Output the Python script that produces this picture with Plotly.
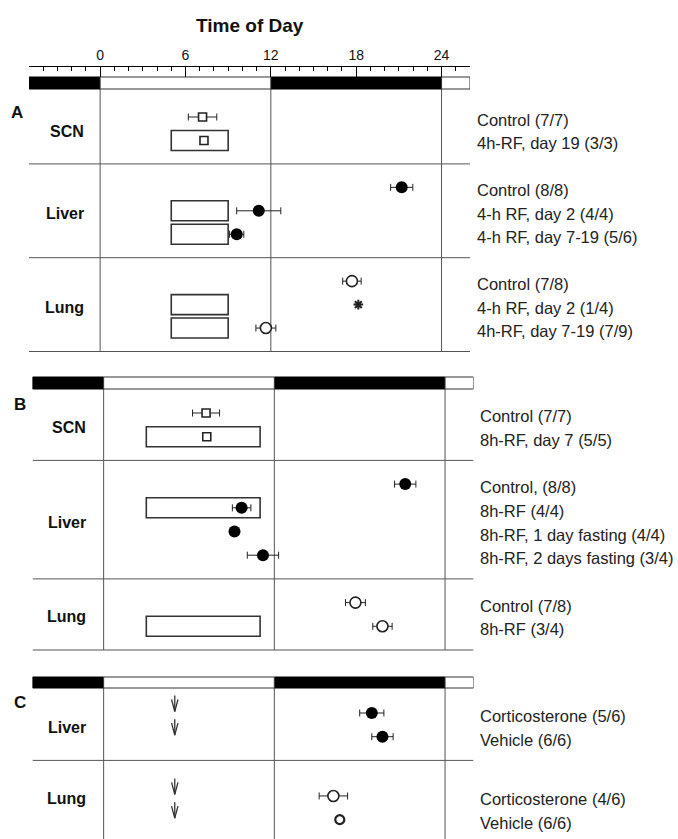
import plotly.graph_objects as go

W, H = 678, 839
FONT = "Liberation Sans, Arial, Helvetica, sans-serif"

# ---------------- data ----------------
HOURS_RANGE = [-5, 26]
TICK_VALUES = [0, 6, 12, 18, 24]
TICK_LABELS = ["0", "6", "12", "18", "24"]
DARK_PERIODS = [(-5, 0), (12, 24)]
LIGHT_PERIODS = [(0, 12), (24, 26)]
DAY_LINES = [0, 12, 24]

A_tissue = ["SCN", "SCN", "Liver", "Liver", "Liver", "Lung", "Lung", "Lung"]
A_condition = ["Control (7/7)", "4h-RF, day 19 (3/3)",
               "Control (8/8)", "4-h RF, day 2 (4/4)", "4-h RF, day 7-19 (5/6)",
               "Control (7/8)", "4-h RF, day 2 (1/4)", "4h-RF, day 7-19 (7/9)"]
A_peak = [7.2, 7.3, 21.2, 11.15, 9.6, 17.7, 18.15, 11.65]
A_sem = [1.0, 0, 0.78, 1.55, 0.5, 0.65, 0, 0.7]
A_restricted = [False, True, False, True, True, False, True, True]
A_arrhythmic = [False, False, False, False, False, False, True, False]
A_feeding = (5, 9)

B_tissue = ["SCN", "SCN", "Liver", "Liver", "Liver", "Liver", "Lung", "Lung"]
B_condition = ["Control (7/7)", "8h-RF, day 7 (5/5)",
               "Control, (8/8)", "8h-RF (4/4)", "8h-RF, 1 day fasting (4/4)",
               "8h-RF, 2 days fasting (3/4)",
               "Control (7/8)", "8h-RF (3/4)"]
B_peak = [7.2, 7.25, 21.2, 9.7, 9.2, 11.2, 17.7, 19.6]
B_sem = [0.95, 0, 0.75, 0.65, 0, 1.1, 0.7, 0.68]
B_restricted = [False, True, False, True, False, False, False, True]
B_arrhythmic = [False] * 8
B_feeding = (3, 11)

C_tissue = ["Liver", "Liver", "Lung", "Lung"]
C_condition = ["Corticosterone (5/6)", "Vehicle (6/6)",
               "Corticosterone (4/6)", "Vehicle (6/6)"]
C_peak = [18.85, 19.6, 16.15, 16.6]
C_sem = [0.85, 0.75, 1.0, 0]
C_injection = [5, 5, 5, 5]

# ---------------- layout constants (pixels) ----------------
PANELS = [
    dict(letter="A", tissue=A_tissue, cond=A_condition, peak=A_peak, sem=A_sem,
         restricted=A_restricted, arrhythmic=A_arrhythmic, feeding=A_feeding,
         injection=None, xaxis="x", bar=(77, 89), row0=117, unit=23.45,
         bottom_line=True, bottom=None, extra={}, label_x=475, tissue_x=86,
         letter_xy=(17, 112)),
    dict(letter="B", tissue=B_tissue, cond=B_condition, peak=B_peak, sem=B_sem,
         restricted=B_restricted, arrhythmic=B_arrhythmic, feeding=B_feeding,
         injection=None, xaxis="x2", bar=(377, 389), row0=413, unit=23.7,
         bottom_line=True, bottom=None, extra={}, label_x=478, tissue_x=88,
         letter_xy=(20, 404)),
    dict(letter="C", tissue=C_tissue, cond=C_condition, peak=C_peak, sem=C_sem,
         restricted=[False] * 4, arrhythmic=[False] * 4, feeding=None,
         injection=C_injection, xaxis="x2", bar=(677, 688), row0=713, unit=23.7,
         bottom_line=False, bottom=H, extra={"Lung": 0.5}, label_x=478,
         tissue_x=88, letter_xy=(20, 702)),
]

MARKERS = {
    "SCN": dict(symbol="square", size=8, color="white",
                line=dict(color="#222", width=1.6)),
    "Liver": dict(symbol="circle", size=12, color="black",
                  line=dict(color="black", width=0)),
    "Lung": dict(symbol="circle", size=11, color="white",
                 line=dict(color="#222", width=1.6)),
}
ASTERISK = dict(symbol="asterisk-open", size=8, color="#222",
                line=dict(color="#222", width=2))

LINE_COLOR = "#555"
PX_PER_HOUR = (470 - 29) / (HOURS_RANGE[1] - HOURS_RANGE[0])

fig = go.Figure()
shapes = []
annotations = []


def slot_layout(tissues, extra):
    slots, seps = [], []
    s = 0
    for i, t in enumerate(tissues):
        if i > 0 and t != tissues[i - 1]:
            s += 1
            seps.append(s)
            s += extra.get(t, 0)
        s += 1
        slots.append(s)
    seps.append(s + 1)
    return slots, seps


for p in PANELS:
    xa = p["xaxis"]
    xref = xa
    ytop, ybot = p["bar"]
    ypx = lambda s, p=p: p["row0"] + (s - 1) * p["unit"]
    slots, seps = slot_layout(p["tissue"], p["extra"])
    rows_y = [ypx(s) for s in slots]

    # light/dark bar
    for (a, b) in DARK_PERIODS:
        shapes.append(dict(type="rect", xref=xref, yref="y", x0=a, x1=b,
                           y0=ytop, y1=ybot, fillcolor="black",
                           line=dict(color="black", width=1)))
    for (a, b) in LIGHT_PERIODS:
        shapes.append(dict(type="rect", xref=xref, yref="y", x0=a, x1=b,
                           y0=ytop, y1=ybot, fillcolor="white",
                           line=dict(color="#333", width=1)))

    if p["bottom_line"]:
        panel_bottom = ypx(seps[-1])
        sep_list = seps
    else:
        panel_bottom = p["bottom"]
        sep_list = seps[:-1]

    for d in DAY_LINES:
        shapes.append(dict(type="line", xref=xref, yref="y", x0=d, x1=d,
                           y0=ybot, y1=panel_bottom, layer="below",
                           line=dict(color=LINE_COLOR, width=1)))
    for s in sep_list:
        shapes.append(dict(type="line", xref=xref, yref="y",
                           x0=HOURS_RANGE[0], x1=HOURS_RANGE[1],
                           y0=ypx(s), y1=ypx(s), layer="below",
                           line=dict(color=LINE_COLOR, width=1)))

    # feeding windows
    if p["feeding"] is not None:
        for y, r in zip(rows_y, p["restricted"]):
            if r:
                shapes.append(dict(type="rect", xref=xref, yref="y",
                                   x0=p["feeding"][0], x1=p["feeding"][1],
                                   y0=y - 10, y1=y + 10, layer="below",
                                   fillcolor="white",
                                   line=dict(color="#333", width=1.6)))

    # injection arrows
    if p["injection"] is not None:
        dx = 3.2 / PX_PER_HOUR
        ax, ay = [], []
        for y, t0 in zip(rows_y, p["injection"]):
            tip = y - 1.5
            ax += [t0, t0, None, t0 - dx, t0, t0 + dx, None]
            ay += [tip - 16, tip, None, tip - 12, tip, tip - 12, None]
        fig.add_trace(go.Scatter(x=ax, y=ay, mode="lines", xaxis=xa, yaxis="y",
                                 line=dict(color="#333", width=1.3),
                                 hoverinfo="skip", showlegend=False))

    # phase markers
    for i, (y, t, pk, se) in enumerate(zip(rows_y, p["tissue"], p["peak"], p["sem"])):
        if p["arrhythmic"][i]:
            marker = ASTERISK
        else:
            marker = dict(MARKERS[t])
            if p["letter"] == "C" and t == "Lung" and se == 0:
                marker = dict(marker, size=9, line=dict(color="#222", width=2.2))
        err = None
        if se > 0:
            err = dict(type="data", array=[se], color="#222", thickness=1,
                       width=3.5)
        fig.add_trace(go.Scatter(x=[pk], y=[y], mode="markers", xaxis=xa,
                                 yaxis="y", marker=marker, error_x=err,
                                 hoverinfo="skip", showlegend=False))

    # condition labels
    for y, c in zip(rows_y, p["cond"]):
        annotations.append(dict(text=c, xref="paper", yref="y",
                                x=p["label_x"] / W, y=y + 3, xanchor="left",
                                yanchor="middle", showarrow=False,
                                font=dict(family=FONT, size=16.5, color="#222")))

    # tissue labels
    groups = []
    for t in p["tissue"]:
        if t not in groups:
            groups.append(t)
    for g in groups:
        gs = [s for s, t in zip(slots, p["tissue"]) if t == g]
        ms = sum(gs) / len(gs) - p["extra"].get(g, 0)
        annotations.append(dict(text="<b>%s</b>" % g, xref="paper", yref="y",
                                x=p["tissue_x"] / W, y=ypx(ms) + 2.5,
                                xanchor="right", yanchor="middle",
                                showarrow=False,
                                font=dict(family=FONT, size=16, color="#111")))

    lx, ly = p["letter_xy"]
    annotations.append(dict(text="<b>%s</b>" % p["letter"], xref="paper",
                            yref="y", x=lx / W, y=ly, xanchor="center",
                            yanchor="middle", showarrow=False,
                            font=dict(family=FONT, size=17, color="#111")))

annotations.append(dict(text="<b>Time of Day</b>", xref="paper", yref="y",
                        x=250 / W, y=25, xanchor="center", yanchor="middle",
                        showarrow=False,
                        font=dict(family=FONT, size=19, color="#111")))

fig.update_layout(
    width=W, height=H,
    margin=dict(l=0, r=0, t=0, b=0),
    paper_bgcolor="white", plot_bgcolor="rgba(0,0,0,0)",
    showlegend=False,
    shapes=shapes, annotations=annotations,
    xaxis=dict(domain=[29 / W, 470 / W], range=HOURS_RANGE, side="top",
               anchor="free", position=1 - 66 / H,
               showline=True, linecolor="black", linewidth=1,
               tickmode="array", tickvals=TICK_VALUES, ticktext=TICK_LABELS,
               ticks="inside", ticklen=10, tickwidth=1, tickcolor="black",
               tickfont=dict(family=FONT, size=14, color="#111"),
               minor=dict(tickmode="linear", tick0=0, dtick=1, ticks="inside",
                          ticklen=4, tickwidth=1, tickcolor="black",
                          showgrid=False),
               showgrid=False, zeroline=False, fixedrange=True),
    xaxis2=dict(domain=[32.5 / W, 473.5 / W], range=HOURS_RANGE, anchor="y",
                visible=False, showgrid=False, zeroline=False, fixedrange=True),
    yaxis=dict(domain=[0, 1], range=[H, 0], visible=False, showgrid=False,
               zeroline=False, fixedrange=True),
)

fig.write_html("out.html", config={"displayModeBar": False},
               post_script="document.body.style.margin='0';"
                           "document.body.style.overflow='hidden';")
